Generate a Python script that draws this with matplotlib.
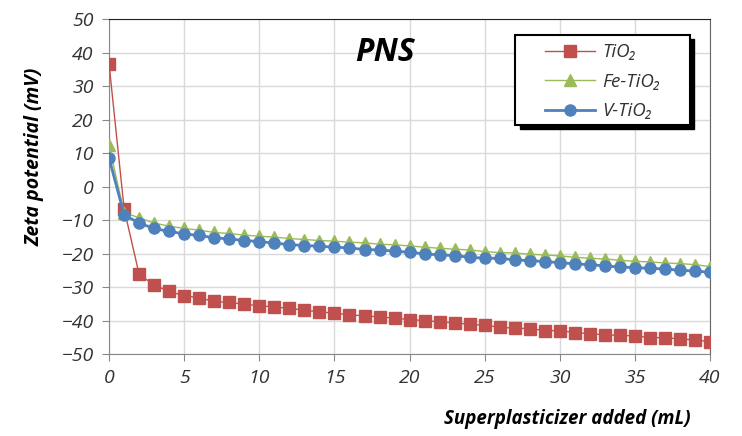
import matplotlib.pyplot as plt
from matplotlib.patches import Rectangle
import numpy as np

# Dados (potencial zeta vs superplastificante adicionado)
added_ml = np.arange(0, 41)

tio2 = [36.6, -6.6, -26.2, -29.4, -31.3, -32.6, -33.2, -34.3, -34.6, -35.1,
        -35.6, -35.9, -36.4, -36.9, -37.4, -37.8, -38.3, -38.6, -38.9, -39.3,
        -39.7, -40.0, -40.4, -40.7, -41.1, -41.4, -42.0, -42.3, -42.4, -43.0,
        -43.0, -43.6, -43.9, -44.3, -44.4, -44.6, -45.1, -45.1, -45.5, -45.8,
        -46.3]

fe_tio2 = [12.3, -7.8, -9.3, -10.9, -11.8, -12.5, -13.0, -13.7, -14.0, -14.5,
           -14.8, -15.1, -15.5, -15.8, -16.1, -16.3, -16.6, -16.8, -17.2, -17.4,
           -17.7, -18.1, -18.4, -18.7, -18.9, -19.4, -19.7, -19.8, -20.2, -20.4,
           -20.7, -21.1, -21.4, -21.6, -22.0, -22.3, -22.5, -22.8, -23.0, -23.3,
           -23.9]

v_tio2 = [8.5, -8.4, -10.9, -12.5, -13.4, -14.1, -14.6, -15.3, -15.6, -16.1,
          -16.4, -16.9, -17.3, -17.6, -17.8, -18.1, -18.3, -18.8, -18.9, -19.3,
          -19.6, -20.1, -20.4, -20.6, -21.1, -21.4, -21.4, -21.9, -22.1, -22.4,
          -22.7, -23.1, -23.3, -23.7, -24.0, -24.2, -24.4, -24.6, -25.0, -25.2,
          -25.6]

labels = ['TiO₂', 'Fe-TiO₂', 'V-TiO₂']
x_ticks = [0, 5, 10, 15, 20, 25, 30, 35, 40]
y_ticks = [50, 40, 30, 20, 10, 0, -10, -20, -30, -40, -50]

plt.rcParams['font.family'] = ['Open Sans', 'DejaVu Sans']

fig = plt.figure(figsize=(7.42, 4.36), dpi=100)
ax = fig.add_axes([0.147, 0.188, 0.81, 0.768])

ax.plot(added_ml, tio2, color='#C0504D', lw=1.0, marker='s', ms=8, label=labels[0], zorder=3)
ax.plot(added_ml, fe_tio2, color='#9BBB59', lw=1.0, marker='^', ms=8, label=labels[1], zorder=4)
ax.plot(added_ml, v_tio2, color='#4F81BD', lw=2.0, marker='o', ms=8, label=labels[2], zorder=5)

ax.set_xlim(0, 40)
ax.set_ylim(-50, 50)
ax.set_xticks(x_ticks)
ax.set_yticks(y_ticks)
ax.grid(True, color='#D9D9D9', lw=1.0)
ax.set_axisbelow(True)

for side in ['left', 'bottom']:
    ax.spines[side].set_color('#888888')
ax.spines['top'].set_color('#222222')
ax.spines['right'].set_color('#666666')
ax.tick_params(direction='out', length=5, color='#888888', labelsize=14,
               labelcolor='#333333', pad=6)
for lab in ax.get_xticklabels() + ax.get_yticklabels():
    lab.set_style('italic')

ax.set_ylabel('Zeta potential (mV)', fontsize=14, fontweight='bold', style='italic')
ax.yaxis.set_label_coords(-0.108, 0.588)
ax.set_xlabel('Superplasticizer added (mL)', fontsize=13.5, fontweight='bold', style='italic')
ax.xaxis.set_label_coords(0.762, -0.165)

ax.text(0.46, 0.9, 'PNS', transform=ax.transAxes, fontsize=23, fontweight='bold',
        style='italic', ha='center', va='center')

# caixa da legenda com sombra
ax.add_patch(Rectangle((0.683, 0.672), 0.291, 0.268, transform=ax.transAxes,
                       facecolor='black', edgecolor='black', zorder=8))
ax.add_patch(Rectangle((0.676, 0.684), 0.291, 0.268, transform=ax.transAxes,
                       facecolor='white', edgecolor='black', lw=1.5, zorder=9))

leg = ax.legend(loc='center', bbox_to_anchor=(0.8215, 0.813), frameon=False,
                fontsize=13.5, handlelength=2.7, handletextpad=0.4,
                labelspacing=0.62, borderpad=0)
leg.set_zorder(10)
for t in leg.get_texts():
    t.set_style('italic')
    t.set_color('#333333')

fig.savefig('out.png', dpi=100)
